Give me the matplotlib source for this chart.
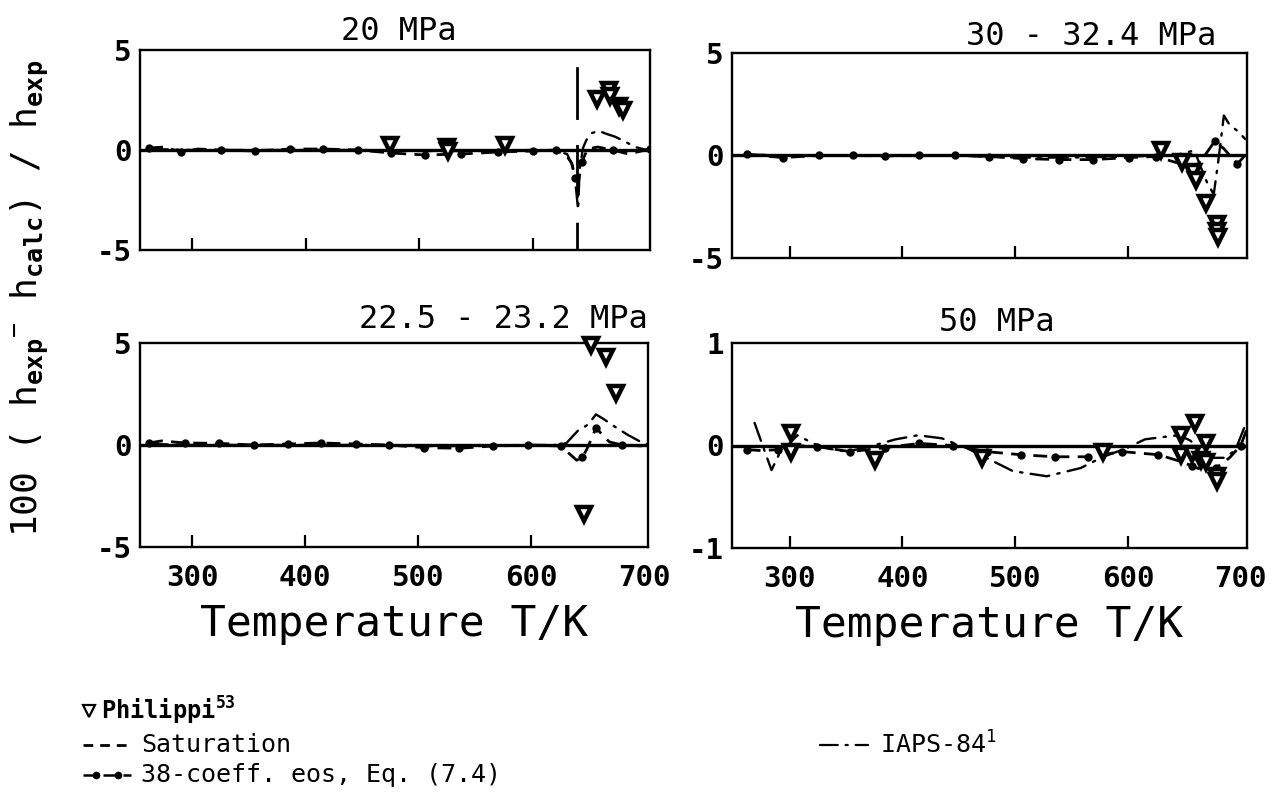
import matplotlib
matplotlib.use('Agg')
import matplotlib.pyplot as plt
from matplotlib.lines import Line2D

plt.rcParams['font.family'] = ['DejaVu Sans Mono']
plt.rcParams['mathtext.fontset'] = 'custom'
plt.rcParams['mathtext.rm'] = 'DejaVu Sans Mono'
plt.rcParams['mathtext.it'] = 'DejaVu Sans Mono'
plt.rcParams['mathtext.bf'] = 'DejaVu Sans Mono:bold'

# deviations 100 (h_exp - h_calc) / h_exp, in percent, against temperature T/K

# 20 MPa
eos_a_T = [262, 275, 290, 305, 325, 355, 386, 415, 446, 475, 505, 537, 569, 600, 620,
           629, 634, 637, 640, 643, 648, 657, 670, 684, 703]
eos_a_v = [0.1, 0.15, -0.1, 0.05, 0.0, -0.05, 0.05, 0.05, 0.0, -0.15, -0.25, -0.2, -0.1, -0.05, 0.0,
           -0.25, -0.65, -1.4, -1.6, -0.6, 0.05, 0.15, 0.0, -0.2, 0.05]
iaps_a_T = [262, 300, 350, 400, 450, 500, 550, 600, 620, 630, 635, 638, 639.7, 641, 644,
            647, 652, 658, 665, 672, 680, 690, 700]
iaps_a_v = [0.05, 0.0, 0.0, 0.0, 0.0, -0.05, -0.05, 0.0, -0.05, -0.2, -0.8, -2.0, -3.0, -1.0, 0.1,
            0.5, 0.85, 0.95, 0.8, 0.67, 0.45, 0.15, 0.0]
phil_a_T = [474, 524, 525, 575, 656, 667, 668, 676, 679]
phil_a_v = [0.25, 0.17, -0.05, 0.25, 2.55, 3.0, 2.7, 2.2, 2.0]
sat_T_a = 638.9

# 30 - 32.4 MPa
eos_b_T = [262, 294, 326, 356, 385, 415, 447, 477, 507, 539, 569, 601, 625, 640, 650,
           660, 668, 677, 685, 697, 705]
eos_b_v = [0.05, -0.1, 0.0, 0.0, -0.02, 0.0, 0.0, -0.05, -0.15, -0.2, -0.2, -0.1, -0.05, -0.3, -0.45,
           -0.57, 0.0, 0.7, 0.33, -0.41, 0.08]
iaps_b_T = [262, 300, 350, 400, 450, 500, 550, 600, 640, 652, 659, 664, 670, 676, 680,
            685, 690, 697, 704]
iaps_b_v = [0.05, 0.0, 0.0, 0.0, 0.0, -0.1, -0.1, -0.05, 0.0, 0.15, 0.25, -0.5, -1.3, -1.9, -0.3,
            1.95, 1.5, 1.2, 0.8]
phil_b_T = [629, 648, 658, 660, 669, 679, 679, 680]
phil_b_v = [0.25, -0.33, -0.8, -1.2, -2.3, -3.35, -3.7, -4.0]

# 22.5 - 23.2 MPa
eos_c_T = [262, 273, 294, 324, 355, 385, 414, 445, 474, 505, 536, 566, 597, 626, 633,
           640, 645, 649, 653, 657, 661, 665, 669, 680, 698, 703]
eos_c_v = [0.1, 0.2, 0.1, 0.08, 0.0, 0.05, 0.1, 0.05, 0.0, -0.13, -0.16, -0.05, 0.0, -0.05, -0.4,
           -0.75, -0.6, -0.2, 0.3, 0.85, 0.6, 0.35, 0.15, 0.0, -0.05, 0.0]
iaps_c_T = [262, 300, 350, 400, 450, 500, 550, 600, 625, 631, 641, 650, 657, 663, 675,
            685, 695, 702]
iaps_c_v = [0.05, 0.0, 0.0, 0.0, 0.0, -0.05, -0.05, 0.0, 0.0, 0.1, 0.7, 1.0, 1.5, 1.3, 0.85,
            0.5, 0.2, 0.05]
phil_c_T = [646, 653, 666, 675]
phil_c_v = [-3.4, 4.9, 4.3, 2.55]

# 50 MPa
eos_d_T = [262, 275, 290, 305, 324, 354, 385, 415, 445, 475, 505, 535, 565, 595, 627,
           645, 657, 668, 678, 690, 700, 705]
eos_d_v = [-0.04, -0.05, -0.04, 0.0, -0.01, -0.06, -0.02, 0.02, 0.0, -0.06, -0.09, -0.11, -0.11, -0.06, -0.09,
           -0.15, -0.2, -0.25, -0.22, -0.12, 0.0, 0.15]
iaps_d_T = [269, 284, 291, 307, 321, 334, 351, 371, 394, 414, 435, 458, 478, 498, 528,
            558, 578, 598, 615, 629, 645, 655, 665, 675, 685, 695, 704]
iaps_d_v = [0.22, -0.24, -0.08, 0.10, 0.02, -0.03, -0.06, -0.01, 0.06, 0.10, 0.07, -0.03, -0.14, -0.25, -0.30,
            -0.22, -0.11, -0.03, 0.06, 0.08, 0.10, 0.05, -0.05, -0.12, -0.12, -0.05, 0.2]
phil_d_T = [301, 301, 376, 471, 578, 647, 647, 657, 659, 665, 669, 669, 679, 679]
phil_d_v = [0.12, -0.06, -0.14, -0.12, -0.06, 0.10, -0.09, -0.08, 0.22, -0.14, 0.02, -0.16, -0.30, -0.35]

x_ticks = [300, 400, 500, 600, 700]
titles = ['20 MPa', '30 - 32.4 MPa', '22.5 - 23.2 MPa', '50 MPa']

IAPS_LS = (0, (8, 3.5, 1, 3.5))
EOS_LS = (0, (5, 3))

W, H = 1272, 798
fig = plt.figure(figsize=(W / 100, H / 100), dpi=100)


def box(l, t, r, b):
    # pixel box -> figure fraction rect
    return [l / W, 1 - b / H, (r - l) / W, (b - t) / H]


def panel(ax, eos_T, eos_v, iaps_T, iaps_v, phil_T, phil_v, xlim, ylim, yticks,
          title, title_x, title_ha, title_dy, bottom):
    ax.axhline(0, color='k', lw=2.4, zorder=2)
    ax.plot(iaps_T, iaps_v, color='k', lw=1.7, ls=IAPS_LS, dash_capstyle='round', zorder=3)
    ax.plot(eos_T, eos_v, color='k', lw=2.0, ls=EOS_LS, marker='o', ms=5,
            markevery=0.062, zorder=3)
    ax.plot(phil_T, phil_v, ls='none', marker='v', ms=10.5, mfc='white', mec='k', mew=3.2,
            clip_on=False, zorder=4)
    ax.set_xlim(*xlim)
    ax.set_ylim(*ylim)
    ax.set_yticks(yticks, labels=[str(v) if v >= 0 else '-' + str(-v) for v in yticks],
                  fontsize=21, fontweight='bold')
    ax.set_xticks(x_ticks)
    if bottom:
        ax.set_xticklabels([str(t) for t in x_ticks], fontsize=21, fontweight='bold')
        ax.set_xlabel('Temperature T/K', fontsize=31, labelpad=8)
    else:
        ax.set_xticklabels([])
    ax.tick_params(axis='x', direction='in', length=9, width=1.6, pad=12)
    ax.tick_params(axis='y', length=0, pad=6)
    ax.xaxis.get_major_ticks()[-1].tick1line.set_visible(False)
    for s in ax.spines.values():
        s.set_linewidth(1.7)
    ax.text(title_x, 1 + title_dy, title, transform=ax.transAxes, ha=title_ha,
            va='baseline', fontsize=23)


ax_a = fig.add_axes(box(140, 50, 650, 250))
ax_b = fig.add_axes(box(732, 53, 1247, 258))
ax_c = fig.add_axes(box(140, 343, 648, 547))
ax_d = fig.add_axes(box(732, 343, 1247, 548))

panel(ax_a, eos_a_T, eos_a_v, iaps_a_T, iaps_a_v, phil_a_T, phil_a_v,
      (254, 703), (-5, 5), [5, 0, -5], titles[0], 0.508, 'center', 0.05, False)
# saturation temperature, dashes run from the top of the frame down
ax_a.plot([sat_T_a, sat_T_a], ax_a.get_ylim()[::-1], color='k', lw=2,
          ls=(22, (19, 9)), zorder=3)
panel(ax_b, eos_b_T, eos_b_v, iaps_b_T, iaps_b_v, phil_b_T, phil_b_v,
      (249, 705.5), (-5, 5), [5, 0, -5], titles[1], 0.94, 'right', 0.04, False)
panel(ax_c, eos_c_T, eos_c_v, iaps_c_T, iaps_c_v, phil_c_T, phil_c_v,
      (254, 703), (-5, 5), [5, 0, -5], titles[2], 1.0, 'right', 0.075, True)
panel(ax_d, eos_d_T, eos_d_v, iaps_d_T, iaps_d_v, phil_d_T, phil_d_v,
      (249, 705.5), (-1, 1), [1, 0, -1], titles[3], 0.515, 'center', 0.06, True)

fig.text(30 / W, 1 - 298 / H,
         r'100 ( h$_{\mathbf{exp}}$$^{-}$ h$_{\mathbf{calc}}$) / h$_{\mathbf{exp}}$',
         rotation=90, ha='center', va='center', fontsize=26)

# legend drawn in pixel space along the bottom
lax = fig.add_axes([0, 0, 1, 1])
lax.set_xlim(0, W)
lax.set_ylim(H, 0)
lax.axis('off')
lax.add_line(Line2D([89], [711], ls='none', marker='v', ms=8, mfc='white', mec='k', mew=1.6))
lax.text(101, 711, r'Philippi$^{\mathbf{53}}$', fontsize=17, fontweight='bold', va='center')
lax.add_line(Line2D([83, 129], [745, 745], color='k', lw=2, ls=(0, (3.5, 2.5))))
lax.text(141, 745, 'Saturation', fontsize=18, va='center')
lax.add_line(Line2D([83, 131], [775, 775], color='k', lw=1.8, ls=EOS_LS))
lax.add_line(Line2D([96, 118], [775, 775], ls='none', marker='o', ms=4.5, color='k'))
lax.text(141, 775, '38-coeff. eos, Eq. (7.4)', fontsize=18, va='center')
lax.add_line(Line2D([820, 868], [745, 745], color='k', lw=1.6, ls=IAPS_LS, dash_capstyle='round'))
lax.text(880, 745, r'IAPS-84$^{1}$', fontsize=18, va='center')

fig.savefig('out.png', dpi=100)
